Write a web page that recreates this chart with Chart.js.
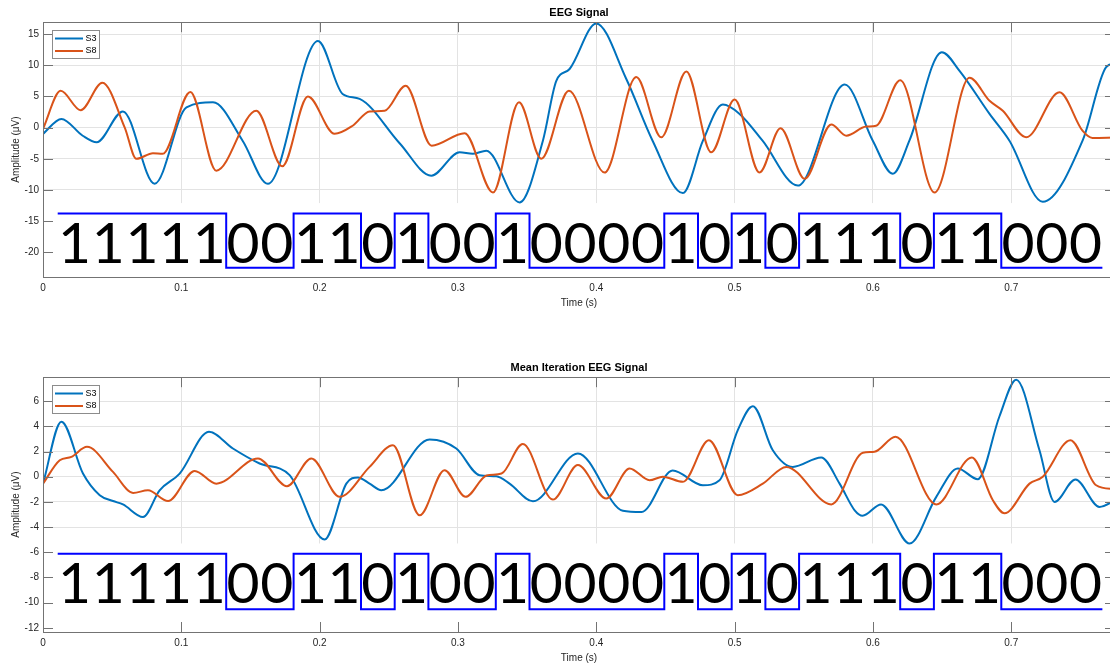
<!DOCTYPE html>
<html>
<head>
<meta charset="utf-8">
<title>EEG Signal</title>
<script src="https://cdn.jsdelivr.net/npm/chart.js@4.4.1/dist/chart.umd.min.js"></script>
<style>
  html, body { margin: 0; padding: 0; background: #fff; overflow: hidden; width: 1110px; height: 668px; }
  canvas { position: absolute; left: 0; }
</style>
</head>
<body>
<canvas id="eeg" width="1115" height="334" style="top:0"></canvas>
<canvas id="eeg_media" width="1115" height="334" style="top:334px"></canvas>
<script>
// sequencia de bits escrita embaixo dos sinais
const bits = "1111100110100100001010111011000".split("").map(Number);
const bit_inicio = 0.01063;   // s
const bit_largura = 0.024363; // s

const x_ticks = [0, 0.1, 0.2, 0.3, 0.4, 0.5, 0.6, 0.7];
const y_ticks_eeg = [-20, -15, -10, -5, 0, 5, 10, 15];
const y_ticks_media = [-12, -10, -8, -6, -4, -2, 0, 2, 4, 6];

// EEG Signal
const t_s3_eeg = [0, 0.0133, 0.0287, 0.0388, 0.0578, 0.0807, 0.1037, 0.1229, 0.1443, 0.1626, 0.1988, 0.2166, 0.2289, 0.2578, 0.2807, 0.3012, 0.3106, 0.3205, 0.3446, 0.3614, 0.3711, 0.3807, 0.4000, 0.4217, 0.4407, 0.4626, 0.4771, 0.4915, 0.5036, 0.5202, 0.5457, 0.5796, 0.5999, 0.6143, 0.6265, 0.6498, 0.6626, 0.6843, 0.6987, 0.7228, 0.7517, 0.7686, 0.775];
const v_s3_eeg = [-1.0, 1.4, -1.3, -2.35, 2.6, -9.0, 3.25, 4.05, -2.1, -9.0, 13.9, 5.4, 4.6, -2.5, -7.7, -3.95, -4.2, -3.7, -12.0, -2.1, 7.5, 9.4, 16.7, 7.8, -2.1, -10.5, -2.1, 3.7, 2.2, -2.1, -9.3, 6.9, -2.1, -7.4, -2.0, 12.1, 9.1, 2.2, -2.1, -11.9, -2.0, 9.7, 10.3];
const t_s8_eeg = [0, 0.0128, 0.0272, 0.0429, 0.0591, 0.0675, 0.0795, 0.0865, 0.1065, 0.1253, 0.1542, 0.1730, 0.1915, 0.2108, 0.2239, 0.2361, 0.2470, 0.2622, 0.2810, 0.3048, 0.3253, 0.3441, 0.3602, 0.3802, 0.4060, 0.4289, 0.4470, 0.4651, 0.4831, 0.5000, 0.5180, 0.5332, 0.5506, 0.5699, 0.5808, 0.5951, 0.6023, 0.6197, 0.6446, 0.6698, 0.6843, 0.6939, 0.7108, 0.7349, 0.7515, 0.7587, 0.775];
const v_s8_eeg = [-0.2, 5.9, 2.8, 7.2, 0, -5.0, -4.1, -4.2, 5.7, -6.9, 2.7, -6.2, 5.0, -1.0, 0.3, 2.6, 2.7, 6.7, -2.9, -0.9, -10.4, 4.05, -5.0, 5.9, -7.2, 8.1, -1.55, 9.0, -3.95, 4.5, -7.2, -0.1, -8.2, 0.5, -1.3, 0.16, 0.3, 7.6, -10.4, 8.0, 4.3, 2.7, -1.55, 5.66, -0.5, -1.65, -1.6];

// Mean Iteration EEG Signal
const t_s3_media = [0, 0.0133, 0.0289, 0.0410, 0.0506, 0.0578, 0.0723, 0.0843, 0.0988, 0.1200, 0.1373, 0.1566, 0.1783, 0.2036, 0.2193, 0.2277, 0.2361, 0.2446, 0.2795, 0.2988, 0.3156, 0.3277, 0.3373, 0.3542, 0.3867, 0.4192, 0.4327, 0.4552, 0.4771, 0.4891, 0.5023, 0.5132, 0.5276, 0.5421, 0.5626, 0.5759, 0.5868, 0.5925, 0.6059, 0.6265, 0.6458, 0.6614, 0.6758, 0.6915, 0.7036, 0.7204, 0.7313, 0.7464, 0.7638, 0.775];
const v_s3_media = [-0.55, 4.37, 0.25, -1.47, -1.93, -2.2, -3.2, -1.08, 0.25, 3.57, 2.24, 1.05, 0.12, -4.98, -0.55, -0.06, -0.55, -1.08, 2.96, 2.24, 0.12, 0.04, -0.55, -1.95, 1.85, -2.7, -2.8, 0.5, -0.68, -0.28, 3.7, 5.6, 2.1, 0.78, 1.53, -0.55, -2.67, -3.1, -2.2, -5.3, -1.6, 0.65, -0.2, 4.8, 7.7, 2.1, -2.0, -0.22, -2.4, -1.9];
const t_s8_media = [0, 0.0121, 0.0205, 0.0318, 0.0506, 0.0651, 0.0759, 0.0904, 0.1097, 0.1253, 0.1554, 0.1764, 0.1940, 0.2145, 0.2361, 0.2530, 0.2723, 0.2903, 0.3055, 0.3207, 0.3315, 0.3469, 0.3686, 0.3867, 0.4072, 0.4241, 0.4385, 0.4481, 0.4626, 0.4814, 0.5023, 0.5204, 0.5373, 0.5699, 0.5927, 0.6011, 0.6163, 0.6458, 0.6715, 0.6867, 0.6951, 0.7132, 0.7228, 0.7428, 0.7614, 0.775];
const v_s8_media = [-0.55, 1.3, 1.58, 2.37, 0.38, -1.29, -1.08, -1.93, 0.46, -0.55, 1.45, -0.76, 1.45, -1.6, 0.78, 2.5, -3.07, 0.52, -1.6, 0.1, 0.25, 2.6, -1.82, 0.92, -1.74, 0.65, -0.28, 0.0, -0.41, 2.9, -1.47, -0.55, 0.78, -2.2, 1.9, 1.98, 3.17, -2.2, 1.53, -1.87, -2.9, -0.55, 0, 2.9, -0.68, -1.0];

const fonte = '"Liberation Sans", Arial, sans-serif';
const fonte_bits = 'Lato, "Open Sans", sans-serif';
const cor_texto = "#262626";

function pares(t, v) {
  return t.map(function (x, i) { return { x: x, y: v[i] }; });
}

function gera_degraus(alto, baixo) {
  var pts = [];
  for (let i = 0; i < bits.length; i++) {
    pts.push({ x: bit_inicio + i * bit_largura, y: bits[i] ? alto : baixo });
  }
  pts.push({ x: bit_inicio + bits.length * bit_largura, y: bits[bits.length - 1] ? alto : baixo });
  return pts;
}

function fixa_ticks(vals) {
  return function (scale) {
    scale.ticks = vals.map(function (v) { return { value: v }; });
  };
}

// tamanho da fonte para o "1" ter ~41.6px de altura
function tamanho_bits(ctx) {
  ctx.save();
  ctx.font = "100px " + fonte_bits;
  const alt = ctx.measureText("1").actualBoundingBoxAscent || 73;
  ctx.restore();
  return 100 * 41.6 / alt;
}

// fundo branco e os digitos grandes
const bits_plugin = {
  id: "bits_texto",
  beforeDatasetsDraw(chart, args, opts) {
    const ctx = chart.ctx, a = chart.chartArea;
    const topo = chart.scales.y.getPixelForValue(opts.fundo);
    ctx.save();
    ctx.fillStyle = "#fff";
    ctx.fillRect(a.left, topo, a.right - a.left, a.bottom - topo);
    ctx.restore();
  },
  afterDatasetsDraw(chart, args, opts) {
    const ctx = chart.ctx, xs = chart.scales.x, ys = chart.scales.y;
    const tam = tamanho_bits(ctx);
    ctx.save();
    ctx.font = tam.toFixed(1) + "px " + fonte_bits;
    ctx.fillStyle = "#000";
    ctx.textAlign = "center";
    ctx.textBaseline = "alphabetic";
    const y = ys.getPixelForValue(opts.base);
    bits.forEach(function (b, i) {
      ctx.fillText(String(b), xs.getPixelForValue(bit_inicio + (i + 0.5) * bit_largura), y);
    });
    ctx.restore();
  },
};

// caixa dos eixos com ticks para dentro, estilo matlab
const moldura_plugin = {
  id: "moldura",
  afterDraw(chart, args, opts) {
    const ctx = chart.ctx, a = chart.chartArea;
    const xs = chart.scales.x, ys = chart.scales.y;
    const tam = 10;
    ctx.save();
    ctx.strokeStyle = "#737373";
    ctx.lineWidth = 1;
    ctx.beginPath();
    xs.ticks.forEach(function (t) {
      const px = Math.round(xs.getPixelForValue(t.value)) + 0.5;
      ctx.moveTo(px, a.top);
      ctx.lineTo(px, a.top + tam);
      if (opts.ticks_baixo) {
        ctx.moveTo(px, a.bottom);
        ctx.lineTo(px, a.bottom - tam);
      }
    });
    ys.ticks.forEach(function (t) {
      const py = Math.round(ys.getPixelForValue(t.value)) + 0.5;
      ctx.moveTo(a.left, py);
      ctx.lineTo(a.left + tam, py);
      if (opts.ticks_baixo || t.value > opts.fundo) {
        ctx.moveTo(a.right, py);
        ctx.lineTo(a.right - tam, py);
      }
    });
    ctx.stroke();
    ctx.strokeRect(Math.round(a.left) + 0.5, Math.round(a.top) + 0.5, a.right - a.left, Math.round(a.bottom - a.top));
    ctx.restore();
  },
};

const legenda_plugin = {
  id: "legenda_dentro",
  afterDraw(chart) {
    const ctx = chart.ctx, a = chart.chartArea;
    const x0 = Math.round(a.left) + 9.5, y0 = Math.round(a.top) + 8.5;
    const itens = chart.data.datasets.filter(function (d) { return d.legenda !== false; });
    ctx.save();
    ctx.fillStyle = "#fff";
    ctx.strokeStyle = "#8c8c8c";
    ctx.lineWidth = 1;
    ctx.fillRect(x0, y0, 47, 28);
    ctx.strokeRect(x0, y0, 47, 28);
    ctx.font = "9px " + fonte;
    ctx.textBaseline = "middle";
    itens.forEach(function (d, i) {
      const y = y0 + 8 + i * 12.5;
      ctx.strokeStyle = d.borderColor;
      ctx.lineWidth = 2;
      ctx.beginPath();
      ctx.moveTo(x0 + 2.5, y);
      ctx.lineTo(x0 + 30.5, y);
      ctx.stroke();
      ctx.fillStyle = "#000";
      ctx.fillText(d.label, x0 + 33, y);
    });
    ctx.restore();
  },
};

function renderiza_eeg(id, cfg) {
  const ctx = document.getElementById(id).getContext("2d");
  return new Chart(ctx, {
    type: "line",
    data: {
      datasets: [
        {
          label: "S3",
          data: pares(cfg.t_s3, cfg.v_s3),
          borderColor: "#0072BD",
          borderWidth: 2,
          pointRadius: 0,
          cubicInterpolationMode: "monotone",
          order: 2,
        },
        {
          label: "S8",
          data: pares(cfg.t_s8, cfg.v_s8),
          borderColor: "#D95319",
          borderWidth: 2,
          pointRadius: 0,
          cubicInterpolationMode: "monotone",
          order: 1,
        },
        {
          label: "bits",
          data: gera_degraus(cfg.alto, cfg.baixo),
          borderColor: "#0000FF",
          borderWidth: 2,
          pointRadius: 0,
          stepped: true,
          legenda: false,
          order: 0,
        },
      ],
    },
    options: {
      responsive: false,
      animation: false,
      devicePixelRatio: 1,
      layout: { padding: 0 },
      plugins: {
        legend: { display: false },
        tooltip: { enabled: false },
        title: {
          display: true,
          text: cfg.titulo,
          fullSize: false,
          color: "#000",
          font: { family: fonte, size: 11, weight: "bold", lineHeight: 1.2 },
          padding: { top: cfg.titulo_topo, bottom: 3 },
        },
        bits_texto: { base: cfg.base, fundo: cfg.fundo },
        moldura: { ticks_baixo: cfg.ticks_baixo, fundo: cfg.fundo },
      },
      scales: {
        x: {
          type: "linear",
          min: 0,
          max: 0.775,
          afterBuildTicks: fixa_ticks(x_ticks),
          afterFit: function (s) { s.height = cfg.altura_x; },
          grid: { color: "#e3e3e3", drawTicks: false },
          border: { display: false },
          ticks: {
            padding: 5,
            color: cor_texto,
            font: { family: fonte, size: 10 },
            callback: function (v) { return String(v); },
          },
          title: {
            display: true,
            text: "Time (s)",
            color: cor_texto,
            font: { family: fonte, size: 10, lineHeight: 1.2 },
            padding: { top: 0, bottom: cfg.titulo_x },
          },
        },
        y: {
          type: "linear",
          min: cfg.y_min,
          max: cfg.y_max,
          afterBuildTicks: fixa_ticks(cfg.y_ticks),
          afterFit: function (s) { s.width = 43; },
          grid: { color: "#e3e3e3", drawTicks: false },
          border: { display: false },
          ticks: {
            padding: 4,
            color: cor_texto,
            font: { family: fonte, size: 10 },
            callback: function (v) { return String(v); },
          },
          title: {
            display: true,
            text: "Amplitude (μV)",
            color: cor_texto,
            font: { family: fonte, size: 10, lineHeight: 1.2 },
            padding: { top: 10, bottom: 0 },
          },
        },
      },
    },
    plugins: [bits_plugin, moldura_plugin, legenda_plugin],
  });
}

renderiza_eeg("eeg", {
  titulo: "EEG Signal",
  titulo_topo: 6,
  titulo_x: 25,
  altura_x: 57,
  t_s3: t_s3_eeg, v_s3: v_s3_eeg,
  t_s8: t_s8_eeg, v_s8: v_s8_eeg,
  y_min: -23.95, y_max: 16.9,
  y_ticks: y_ticks_eeg,
  alto: -13.75, baixo: -22.48,
  base: -21.78, fundo: -12.1,
  ticks_baixo: false,
});

renderiza_eeg("eeg_media", {
  titulo: "Mean Iteration EEG Signal",
  titulo_topo: 27,
  titulo_x: 4,
  altura_x: 36,
  t_s3: t_s3_media, v_s3: v_s3_media,
  t_s8: t_s8_media, v_s8: v_s8_media,
  y_min: -12.33, y_max: 7.9,
  y_ticks: y_ticks_media,
  alto: -6.12, baixo: -10.52,
  base: -10.06, fundo: -5.3,
  ticks_baixo: true,
});
</script>
</body>
</html>
